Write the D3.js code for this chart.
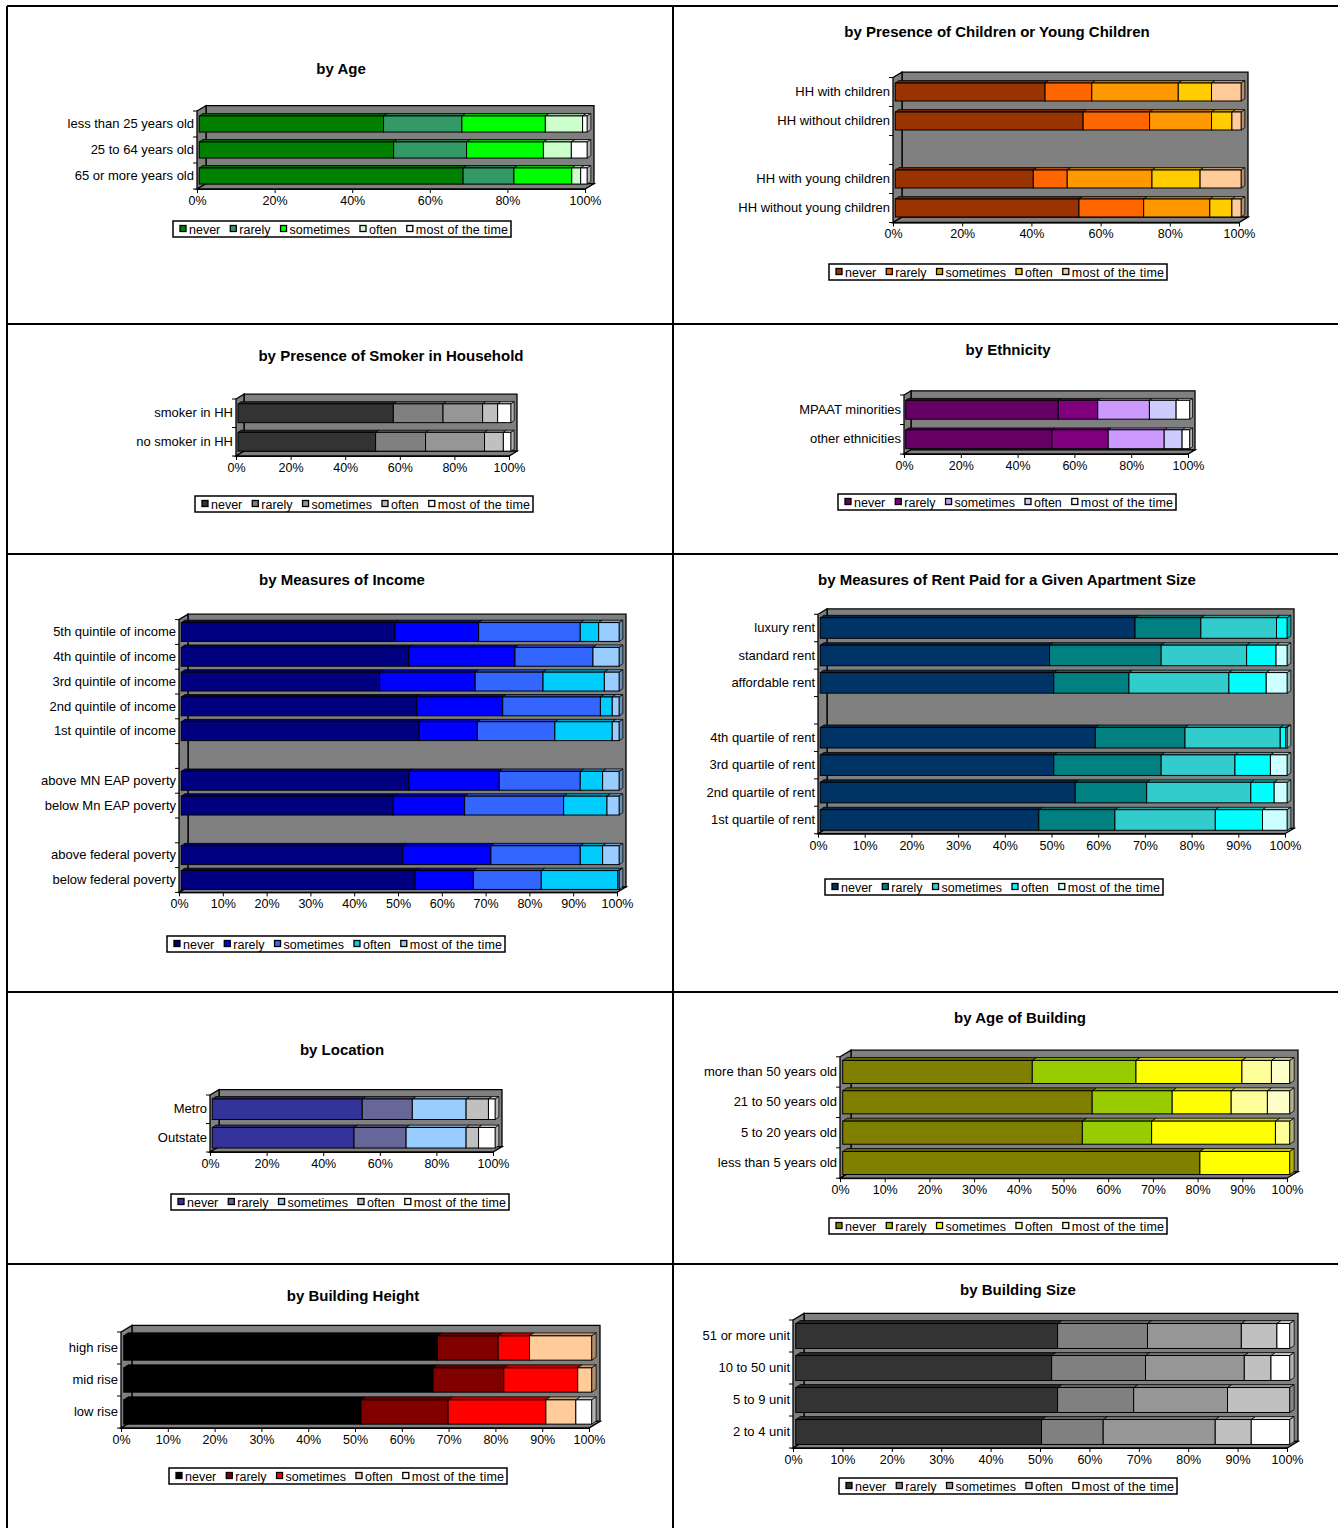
<!DOCTYPE html>
<html>
<head>
<meta charset="utf-8">
<script src="https://cdn.jsdelivr.net/npm/d3@7"></script>
<style>
  body { margin: 0; background: #fff; }
  svg { display: block; }
  text { font-family: "Liberation Sans", Arial, sans-serif; fill: #000; }
</style>
</head>
<body>
<svg id="chart" width="1338" height="1528"></svg>
<script>
// Response levels shared by every panel (stacked left to right)
const responses = ["never", "rarely", "sometimes", "often", "most of the time"];

// ---- by Age ----
const ageCategories = ["less than 25 years old", "25 to 64 years old", "65 or more years old"];
const ageValues = [
  [47.5, 20.2, 21.5, 9.6, 1.2],
  [50.1, 18.8, 19.8, 7.2, 4.1],
  [68.0, 13.1, 14.9, 2.3, 1.7]
];
const ageColors = ["#008000", "#339966", "#00FF00", "#CCFFCC", "#FFFFFF"];

// ---- by Presence of Children or Young Children ----
const childCategories = ["HH with children", "HH without children", "", "HH with young children", "HH without young children"];
const childValues = [
  [43.3, 13.5, 25.0, 9.6, 8.6],
  [54.3, 19.2, 17.9, 5.9, 2.7],
  null,
  [39.9, 9.8, 24.5, 13.9, 11.9],
  [53.1, 18.7, 19.1, 6.4, 2.7]
];
const childColors = ["#993300", "#FF6600", "#FF9900", "#FFCC00", "#FFCC99"];

// ---- by Presence of Smoker in Household ----
const smokerCategories = ["smoker in HH", "no smoker in HH"];
const smokerValues = [
  [56.9, 18.2, 14.5, 5.5, 4.9],
  [50.4, 18.3, 21.6, 6.9, 2.8]
];
const smokerColors = ["#333333", "#808080", "#969696", "#C0C0C0", "#FFFFFF"];

// ---- by Ethnicity ----
const ethnicCategories = ["MPAAT minorities", "other ethnicities"];
const ethnicValues = [
  [53.7, 13.9, 18.2, 9.4, 4.8],
  [51.5, 19.8, 19.7, 6.3, 2.7]
];
const ethnicColors = ["#660066", "#800080", "#CC99FF", "#CCCCFF", "#FFFFFF"];

// ---- by Measures of Income ----
const incomeCategories = [
  "5th quintile of income", "4th quintile of income", "3rd quintile of income",
  "2nd quintile of income", "1st quintile of income", "",
  "above MN EAP poverty", "below Mn EAP poverty", "",
  "above federal poverty", "below federal poverty"
];
const incomeValues = [
  [48.8, 19.1, 23.2, 4.2, 4.7],
  [52.0, 24.2, 17.8, 0.0, 6.0],
  [45.3, 21.8, 15.5, 14.0, 3.4],
  [53.8, 19.6, 22.3, 2.7, 1.6],
  [54.3, 13.3, 17.7, 13.1, 1.6],
  null,
  [52.0, 20.6, 18.5, 5.1, 3.8],
  [48.4, 16.3, 22.6, 9.9, 2.8],
  null,
  [50.6, 20.1, 20.4, 5.1, 3.8],
  [53.4, 13.3, 15.5, 17.5, 0.3]
];
const incomeColors = ["#000080", "#0000FF", "#3366FF", "#00CCFF", "#99CCFF"];

// ---- by Measures of Rent Paid for a Given Apartment Size ----
const rentCategories = [
  "luxury rent", "standard rent", "affordable rent", "",
  "4th quartile of rent", "3rd quartile of rent", "2nd quartile of rent", "1st quartile of rent"
];
const rentValues = [
  [67.4, 14.1, 16.2, 2.3, 0.0],
  [49.1, 23.9, 18.3, 6.3, 2.4],
  [50.0, 16.1, 21.4, 8.0, 4.5],
  null,
  [58.9, 19.2, 20.4, 1.2, 0.3],
  [50.0, 23.0, 15.8, 7.6, 3.6],
  [54.6, 15.3, 22.3, 5.0, 2.8],
  [46.8, 16.3, 21.5, 10.1, 5.3]
];
const rentColors = ["#003366", "#008080", "#33CCCC", "#00FFFF", "#CCFFFF"];

// ---- by Location ----
const locationCategories = ["Metro", "Outstate"];
const locationValues = [
  [53.0, 17.7, 19.0, 7.9, 2.4],
  [50.1, 18.4, 21.2, 4.4, 5.9]
];
const locationColors = ["#333399", "#666699", "#99CCFF", "#C0C0C0", "#FFFFFF"];

// ---- by Age of Building ----
const buildingAgeCategories = ["more than 50 years old", "21 to 50 years old", "5 to 20 years old", "less than 5 years old"];
const buildingAgeValues = [
  [42.4, 23.2, 23.7, 6.6, 4.1],
  [55.8, 17.9, 13.2, 8.1, 5.0],
  [53.6, 15.5, 27.7, 3.2, 0.0],
  [79.9, 0.0, 20.1, 0.0, 0.0]
];
const buildingAgeColors = ["#808000", "#99CC00", "#FFFF00", "#FFFF99", "#FFFFCC"];

// ---- by Building Height ----
const heightCategories = ["high rise", "mid rise", "low rise"];
const heightValues = [
  [67.0, 13.0, 6.7, 13.3, 0.0],
  [66.1, 15.1, 15.8, 3.0, 0.0],
  [50.7, 18.6, 20.9, 6.4, 3.4]
];
const heightColors = ["#000000", "#800000", "#FF0000", "#FFCC99", "#FFFFFF"];

// ---- by Building Size ----
const sizeCategories = ["51 or more unit", "10 to 50 unit", "5 to 9 unit", "2 to 4 unit"];
const sizeValues = [
  [53.0, 18.2, 19.0, 7.2, 2.6],
  [51.8, 19.0, 20.0, 5.4, 3.8],
  [53.0, 15.4, 19.0, 12.6, 0.0],
  [49.8, 12.5, 22.7, 7.3, 7.8]
];
const sizeColors = ["#333333", "#808080", "#969696", "#C0C0C0", "#FFFFFF"];

// Panel layout: plot front plane, depth of the 3-D box, title and legend placement
const panels = [
  { title: "by Age", categories: ageCategories, values: ageValues, colors: ageColors,
    x0: 197, x1: 585, yTop: 111, yBot: 189, depth: 9, barFrac: 0.62, tickStep: 20,
    titleX: 341, titleY: 69, legendX: 173, legendY: 221 },
  { title: "by Presence of Children or Young Children", categories: childCategories, values: childValues, colors: childColors,
    x0: 893, x1: 1239, yTop: 77.5, yBot: 222.5, depth: 9, barFrac: 0.62, tickStep: 20,
    titleX: 997, titleY: 32, legendX: 829, legendY: 264 },
  { title: "by Presence of Smoker in Household", categories: smokerCategories, values: smokerValues, colors: smokerColors,
    x0: 236, x1: 509, yTop: 399, yBot: 456, depth: 8, barFrac: 0.66, tickStep: 20,
    titleX: 391, titleY: 356, legendX: 195, legendY: 496 },
  { title: "by Ethnicity", categories: ethnicCategories, values: ethnicValues, colors: ethnicColors,
    x0: 904, x1: 1188, yTop: 395, yBot: 454, depth: 7, barFrac: 0.64, tickStep: 20,
    titleX: 1008, titleY: 350, legendX: 838, legendY: 494 },
  { title: "by Measures of Income", categories: incomeCategories, values: incomeValues, colors: incomeColors,
    x0: 179, x1: 617, yTop: 619.6, yBot: 892.4, depth: 9, barFrac: 0.76, tickStep: 10,
    titleX: 342, titleY: 580, legendX: 167, legendY: 936 },
  { title: "by Measures of Rent Paid for a Given Apartment Size", categories: rentCategories, values: rentValues, colors: rentColors,
    x0: 818, x1: 1285, yTop: 614.3, yBot: 833.7, depth: 9, barFrac: 0.75, tickStep: 10,
    titleX: 1007, titleY: 580, legendX: 825, legendY: 879 },
  { title: "by Location", categories: locationCategories, values: locationValues, colors: locationColors,
    x0: 210, x1: 493, yTop: 1095, yBot: 1152, depth: 9, barFrac: 0.72, tickStep: 20,
    titleX: 342, titleY: 1050, legendX: 171, legendY: 1194 },
  { title: "by Age of Building", categories: buildingAgeCategories, values: buildingAgeValues, colors: buildingAgeColors,
    x0: 840, x1: 1287, yTop: 1056.8, yBot: 1178.2, depth: 11, barFrac: 0.76, tickStep: 10,
    titleX: 1020, titleY: 1018, legendX: 829, legendY: 1218 },
  { title: "by Building Height", categories: heightCategories, values: heightValues, colors: heightColors,
    x0: 121, x1: 589, yTop: 1332, yBot: 1428, depth: 11, barFrac: 0.76, tickStep: 10,
    titleX: 353, titleY: 1296, legendX: 169, legendY: 1468 },
  { title: "by Building Size", categories: sizeCategories, values: sizeValues, colors: sizeColors,
    x0: 793, x1: 1287, yTop: 1320, yBot: 1448, depth: 11, barFrac: 0.78, tickStep: 10,
    titleX: 1018, titleY: 1290, legendX: 839, legendY: 1478 }
];

const svg = d3.select("#chart");

// Frame lines dividing the page into panels
const frame = svg.append("g").attr("stroke", "#000").attr("stroke-width", 2);
[[7, 6, 1338, 6], [7, 324, 1338, 324], [7, 554, 1338, 554], [7, 992, 1338, 992],
 [7, 1264, 1338, 1264], [7, 6, 7, 1528], [673, 6, 673, 1528]].forEach(([a, b, c, d]) => {
  frame.append("line").attr("x1", a).attr("y1", b).attr("x2", c).attr("y2", d);
});

function drawPanel(p) {
  const g = svg.append("g");
  const x = d3.scaleLinear().domain([0, 100]).range([p.x0, p.x1]);
  const y = d3.scaleBand().domain(d3.range(p.categories.length)).range([p.yTop, p.yBot]);
  const dx = p.depth, dy = p.depth * 0.6;
  const wall = "#808080";

  // 3-D box: back wall, side wall, floor
  g.append("path")
    .attr("d", `M${p.x0 + dx},${p.yTop - dy}H${p.x1 + dx}V${p.yBot - dy}H${p.x0 + dx}Z`)
    .attr("fill", wall).attr("stroke", "#000").attr("stroke-width", 1.3);
  g.append("path")
    .attr("d", `M${p.x0},${p.yTop}L${p.x0 + dx},${p.yTop - dy}V${p.yBot - dy}L${p.x0},${p.yBot}Z`)
    .attr("fill", wall).attr("stroke", "#000").attr("stroke-width", 1.3);
  g.append("path")
    .attr("d", `M${p.x0},${p.yBot}L${p.x0 + dx},${p.yBot - dy}H${p.x1 + dx}L${p.x1},${p.yBot}Z`)
    .attr("fill", wall).attr("stroke", "#000").attr("stroke-width", 1.3);

  // stacked 100% bars
  const ox = dx * 0.25, bx = dx * 0.4, by = dy * 0.45;
  const h = y.bandwidth() * p.barFrac;
  p.values.forEach((row, i) => {
    if (!row) return;
    const total = d3.sum(row);
    let cum = 0;
    const segs = row.map((v, k) => {
      const s = { k, a: cum / total * 100, b: (cum + v) / total * 100 };
      cum += v;
      return s;
    }).filter(s => s.b > s.a);
    const yf = y(i) + (y.bandwidth() - h) / 2;
    segs.forEach(s => {
      const xa = x(s.a) + ox, xb = x(s.b) + ox;
      const c = p.colors[s.k];
      g.append("path")
        .attr("d", `M${xa},${yf}L${xa + bx},${yf - by}H${xb + bx}L${xb},${yf}Z`)
        .attr("fill", d3.color(c).darker(0.7)).attr("stroke", "#000").attr("stroke-width", 0.8);
      g.append("rect")
        .attr("x", xa).attr("y", yf).attr("width", xb - xa).attr("height", h)
        .attr("fill", c).attr("stroke", "#000").attr("stroke-width", 1);
    });
    const last = segs[segs.length - 1];
    const xe = x(last.b) + ox;
    g.append("path")
      .attr("d", `M${xe},${yf}L${xe + bx},${yf - by}V${yf + h - by}L${xe},${yf + h}Z`)
      .attr("fill", d3.color(p.colors[last.k]).darker(1)).attr("stroke", "#000").attr("stroke-width", 0.8);
  });

  // category axis
  const yAxis = g.append("g").attr("transform", `translate(${p.x0},0)`)
    .call(d3.axisLeft(y).tickSize(0).tickSizeOuter(0).tickPadding(3).tickFormat(i => p.categories[i]));
  yAxis.select(".domain").remove();
  yAxis.selectAll("text").style("font-size", "13px");
  const bounds = d3.range(p.categories.length + 1).map(i => p.yTop + i * y.step());
  g.selectAll(null).data(bounds).join("line")
    .attr("x1", p.x0 - 4).attr("x2", p.x0).attr("y1", d => d).attr("y2", d => d)
    .attr("stroke", "#000").attr("stroke-width", 1);

  // value axis along the front edge of the floor
  const xAxis = g.append("g").attr("transform", `translate(0,${p.yBot})`)
    .call(d3.axisBottom(x)
      .tickValues(d3.range(0, 100.001, p.tickStep))
      .tickFormat(d => `${Math.round(d)}%`)
      .tickSize(4).tickSizeOuter(0));
  xAxis.select(".domain").attr("stroke", "#000");
  xAxis.selectAll("line").attr("stroke", "#000");
  xAxis.selectAll("text").style("font-size", "12.5px").attr("fill", "#000");

  // title
  g.append("text").attr("x", p.titleX).attr("y", p.titleY + 5)
    .attr("text-anchor", "middle").style("font-size", "15px").style("font-weight", "bold")
    .text(p.title);

  // legend
  const lw = 338, lh = 16;
  const lg = g.append("g").attr("transform", `translate(${p.legendX},${p.legendY})`);
  lg.append("rect").attr("width", lw).attr("height", lh)
    .attr("fill", "#fff").attr("stroke", "#000").attr("stroke-width", 1.5);
  let cx = 7;
  responses.forEach((r, k) => {
    lg.append("rect").attr("x", cx).attr("y", 4.5).attr("width", 6).attr("height", 6)
      .attr("fill", p.colors[k]).attr("stroke", "#000").attr("stroke-width", 1.3);
    const t = lg.append("text").attr("x", cx + 9).attr("y", 13)
      .style("font-size", "12.5px").text(r);
    if (k === responses.length - 1) {
      const avail = lw - 3 - (cx + 9);
      if (avail > t.node().getComputedTextLength()) {
        t.attr("textLength", avail).attr("lengthAdjust", "spacing");
      }
    }
    cx += 9 + t.node().getComputedTextLength() + 10;
  });
}

panels.forEach(drawPanel);
</script>
</body>
</html>
